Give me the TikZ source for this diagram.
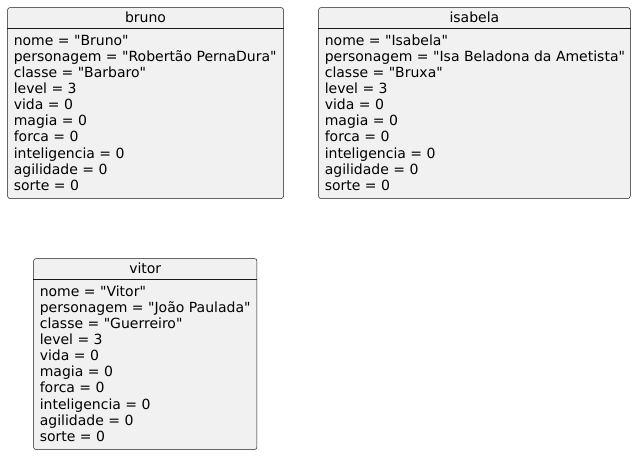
\documentclass[tikz,border=0pt]{standalone}
\usepackage{fontspec}
\setmainfont{DejaVu Sans}[Ligatures=TeXOff]
\definecolor{objfill}{HTML}{F1F1F1}
\definecolor{objline}{HTML}{181818}
\newcommand\umlobj[7]{% name, x, y, width, height, title, lines
  \node[objbox, minimum width=#4pt, minimum height=#5pt, anchor=north west] (#1) at (#2,#3) {};
  \draw[sepline] ([yshift=-21pt]#1.north west) -- ([yshift=-21pt]#1.north east);
  \node[ttl] (#1-title) at ([yshift=-15pt]#1.north) {#6};
  \foreach \t [count=\i from 0] in {#7} {
    \node[attr] (#1-l\i) at ([xshift=6.3pt,yshift=-38pt-16.1pt*\i]#1.north west) {\t};
  }
}
\begin{document}
\begin{tikzpicture}[x=1pt,y=-1pt,
  objbox/.style={draw=objline, fill=objfill, line width=0.5pt, rounded corners=2.5pt, inner sep=0pt},
  sepline/.style={draw=objline, line width=0.5pt},
  attr/.style={anchor=base west, inner sep=0pt, font=\fontsize{14}{16}\selectfont},
  ttl/.style={anchor=base, inner sep=0pt, font=\fontsize{14}{16}\selectfont}]
\useasboundingbox (0,0) rectangle (636,455);
\umlobj{bruno}{7.3}{7.3}{276}{191}{bruno}{nome = "Bruno",personagem = "Robertão PernaDura",classe = "Barbaro",level = 3,vida = 0,magia = 0,forca = 0,inteligencia = 0,agilidade = 0,sorte = 0}
\umlobj{isabela}{318.3}{7.3}{311.7}{191}{isabela}{nome = "Isabela",personagem = "Isa Beladona da Ametista",classe = "Bruxa",level = 3,vida = 0,magia = 0,forca = 0,inteligencia = 0,agilidade = 0,sorte = 0}
\umlobj{vitor}{33.3}{258.3}{223.4}{191}{vitor}{nome = "Vitor",personagem = "João Paulada",classe = "Guerreiro",level = 3,vida = 0,magia = 0,forca = 0,inteligencia = 0,agilidade = 0,sorte = 0}
\end{tikzpicture}
\end{document}
